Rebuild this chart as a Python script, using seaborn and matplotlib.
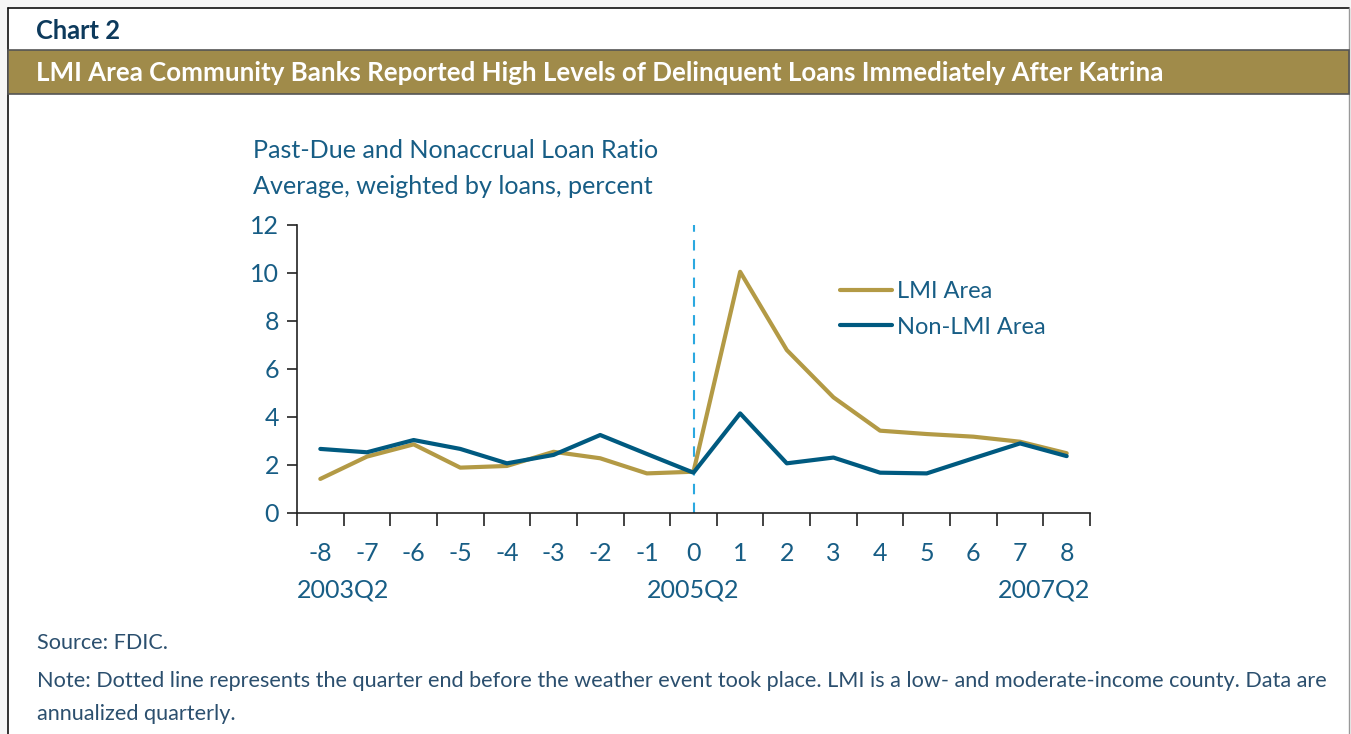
import pandas as pd
import numpy as np
from matplotlib import pyplot as plt
from matplotlib.patches import Rectangle
from matplotlib.lines import Line2D
import matplotlib.transforms as mtransforms
import seaborn as sns

quarters = list(range(-8, 9))
lmi = [1.42, 2.35, 2.86, 1.89, 1.96, 2.55, 2.28, 1.65, 1.72,
       10.05, 6.79, 4.82, 3.43, 3.29, 3.18, 2.97, 2.49]
non_lmi = [2.67, 2.53, 3.04, 2.67, 2.07, 2.42, 3.25, 2.46, 1.68,
           4.15, 2.07, 2.31, 1.68, 1.65, 2.28, 2.90, 2.37]
period_labels = ['2003Q2', '2005Q2', '2007Q2']

df = pd.DataFrame({
    'quarter': quarters * 2,
    'ratio': lmi + non_lmi,
    'area': ['LMI Area'] * len(quarters) + ['Non-LMI Area'] * len(quarters),
})

sns.set_style('white')
plt.rcParams['font.family'] = ['Lato', 'DejaVu Sans']

gold = '#B39A45'
navy = '#005A80'
text_col = '#175D85'
W, H = 1351, 734
fs = 18

fig = plt.figure(figsize=(W / 100, H / 100), dpi=100)

def fx(x):
    return x / W

def fy(y):
    return 1 - y / H

# frame and header bands (kept behind the axes)
fig.add_artist(Rectangle((fx(8), 0), fx(1341), fy(8), transform=fig.transFigure,
                         facecolor='white', edgecolor='none', zorder=-10))
fig.add_artist(Line2D([fx(8), fx(1349)], [fy(8), fy(8)], color='#111111', lw=1.2,
                      transform=fig.transFigure, zorder=-5))
fig.add_artist(Line2D([fx(8), fx(8)], [fy(8), 0], color='#111111', lw=1.2,
                      transform=fig.transFigure, zorder=-5))
fig.add_artist(Line2D([fx(1349), fx(1349)], [fy(8), 0], color='#999999', lw=1.0,
                      transform=fig.transFigure, zorder=-5))
fig.add_artist(Rectangle((fx(8), fy(94)), fx(1341), fy(50) - fy(94),
                         transform=fig.transFigure, facecolor='#A08B4A',
                         edgecolor='#555555', lw=1.2, zorder=-5))

fig.text(fx(36), fy(31), 'Chart 2', fontsize=18.4, fontweight='bold',
         color='#0D3A5C', va='center', ha='left')
fig.text(fx(36), fy(73), 'LMI Area Community Banks Reported High Levels of '
         'Delinquent Loans Immediately After Katrina', fontsize=18.6,
         fontweight='bold', color='white', va='center', ha='left')

ax = fig.add_axes([fx(297), fy(513), fx(1090) - fx(297), fy(225) - fy(513)])
ax.patch.set_alpha(0)
sns.lineplot(data=df, x='quarter', y='ratio', hue='area',
             palette={'LMI Area': gold, 'Non-LMI Area': navy},
             lw=3, ax=ax, legend=False)
ax.axvline(0, color='#2BA8E0', lw=1.5, ls=(0, (5, 4)), zorder=1)

ax.set_xlim(-8.5, 8.5)
ax.set_ylim(0, 12)
ax.set_yticks(range(0, 13, 2))
ax.set_xticks(np.arange(-8.5, 9, 1))
ax.set_xticklabels([])
ax.set_xticks(quarters, minor=True)
ax.set_xticklabels([str(q) for q in quarters], minor=True)
ax.tick_params(axis='x', which='major', length=9, width=1.2, color='#222222',
               direction='out', bottom=True)
ax.tick_params(axis='x', which='minor', length=0, pad=21, labelsize=fs,
               labelcolor=text_col)
ax.tick_params(axis='y', length=7, width=1.2, color='#222222', direction='out',
               left=True, labelsize=fs, labelcolor=text_col, pad=6)
for side in ['top', 'right']:
    ax.spines[side].set_visible(False)
for side in ['left', 'bottom']:
    ax.spines[side].set_color('#222222')
    ax.spines[side].set_linewidth(1.2)
ax.set_xlabel('')
ax.set_ylabel('')

trans = mtransforms.blended_transform_factory(ax.transData, fig.transFigure)
ax.text(-8.5, fy(590), period_labels[0], transform=trans, ha='left',
        va='center', fontsize=fs, color=text_col)
ax.text(0, fy(590), period_labels[1], transform=trans, ha='center',
        va='center', fontsize=fs, color=text_col)
ax.text(8.5, fy(590), period_labels[2], transform=trans, ha='right',
        va='center', fontsize=fs, color=text_col)

handles = [Line2D([], [], color=gold, lw=3), Line2D([], [], color=navy, lw=3)]
leg = ax.legend(handles, ['LMI Area', 'Non-LMI Area'], frameon=False,
                loc='upper left', bbox_to_anchor=(fx(840), fy(281)),
                bbox_transform=fig.transFigure, fontsize=17, handlelength=2.2,
                handletextpad=0.2, labelspacing=0.62, labelcolor=text_col,
                borderpad=0, borderaxespad=0)

fig.text(fx(253), fy(150), 'Past-Due and Nonaccrual Loan Ratio', fontsize=18.1,
         color=text_col, va='center')
fig.text(fx(253), fy(187), 'Average, weighted by loans, percent', fontsize=18.1,
         color=text_col, va='center')

note_col = '#2B4F6E'
fig.text(fx(37), fy(643), 'Source: FDIC.', fontsize=15.6, color=note_col,
         va='center')
fig.text(fx(37), fy(681), 'Note: Dotted line represents the quarter end before '
         'the weather event took place. LMI is a low- and moderate-income county. '
         'Data are', fontsize=15.6, color=note_col, va='center')
fig.text(fx(37), fy(714), 'annualized quarterly.', fontsize=15.6, color=note_col,
         va='center')

fig.savefig('out.png', dpi=100, facecolor='#F6F6F6')
